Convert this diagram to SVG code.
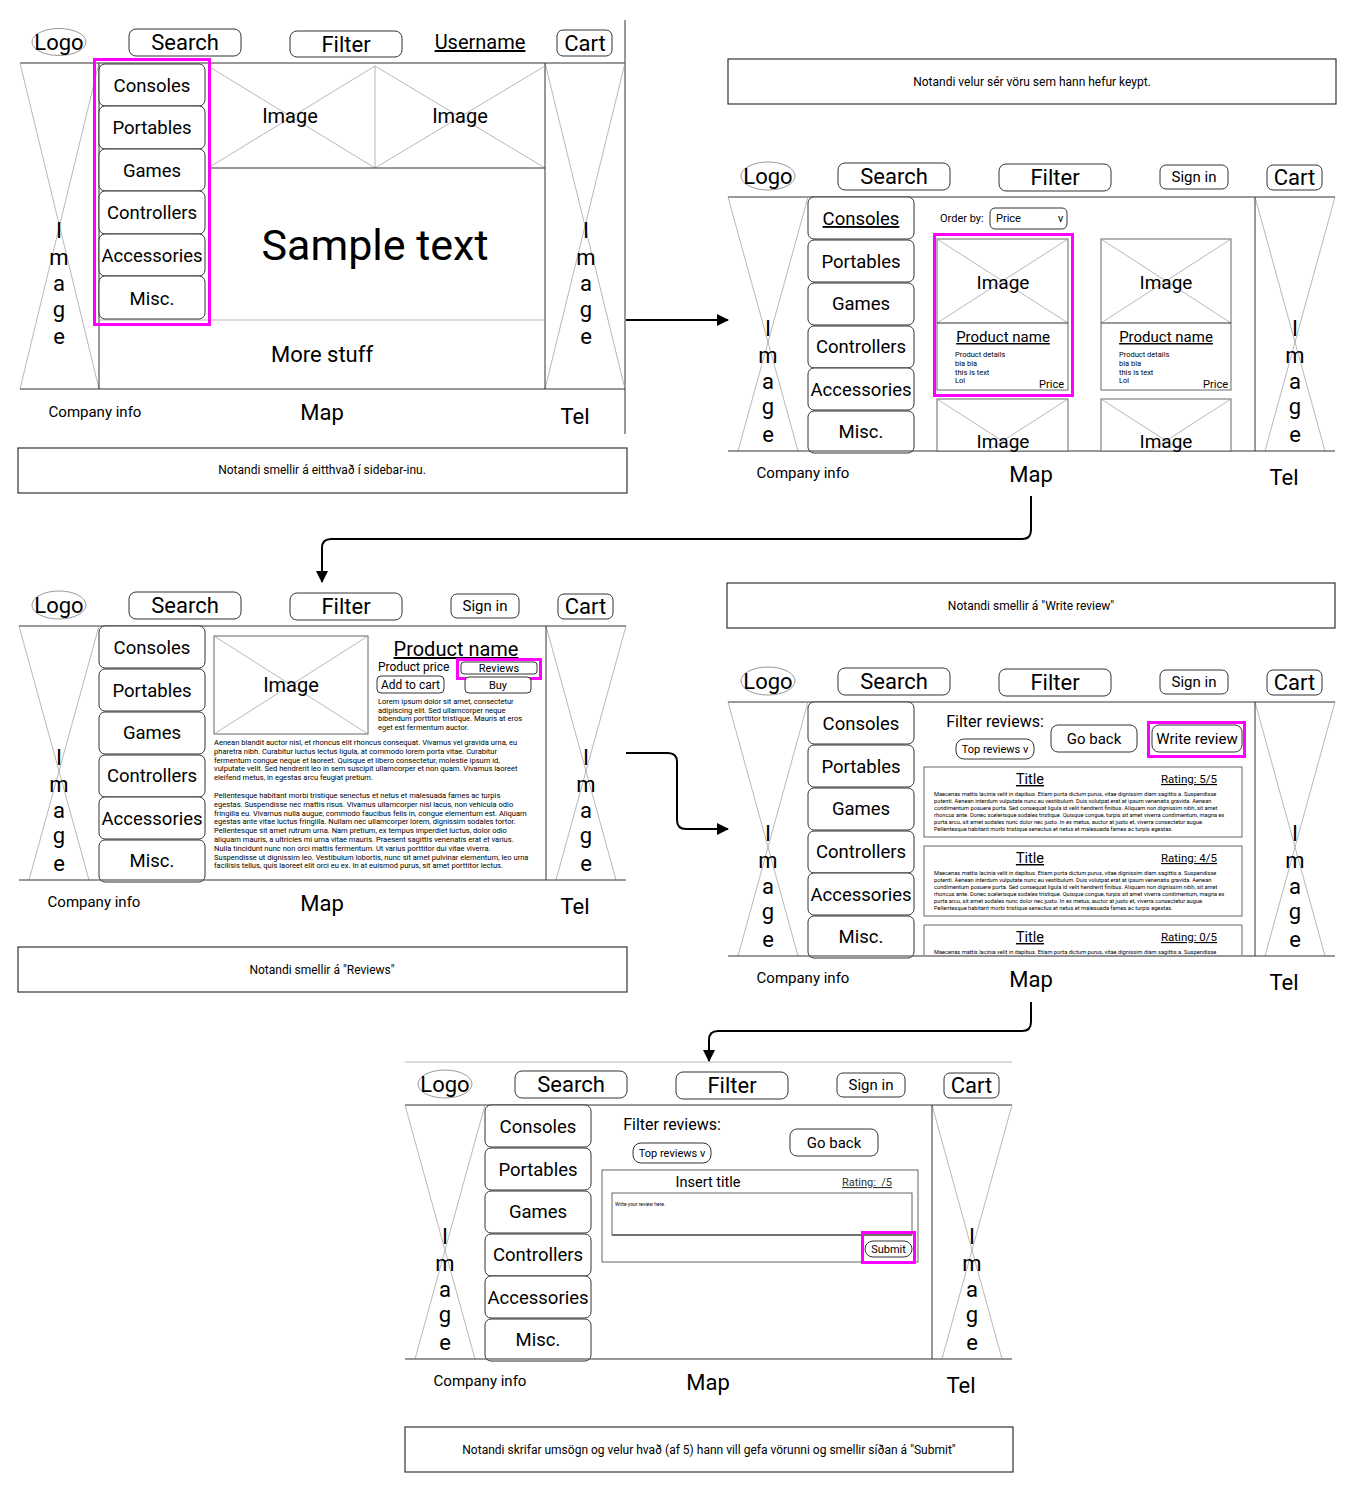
<svg xmlns="http://www.w3.org/2000/svg" width="1356" height="1492" viewBox="0 0 1356 1492">
<style>
text{font-family:Roboto,"Liberation Sans",sans-serif;fill:#000}
.m{text-anchor:middle}
.e{text-anchor:end}
.u{text-decoration:underline}
.t22{font-size:22px}
.t20{font-size:20px}
.t18{font-size:18.5px}
.t15{font-size:15px}
.t12{font-size:12px}
.t11{font-size:11px}
.btn{fill:#fff;stroke:#333;stroke-width:1}
.ph{stroke:#999;stroke-width:0.7;fill:none}
.rule{stroke:#333;stroke-width:1;fill:none}
.hl{fill:none;stroke:#ff00ff;stroke-width:3}
.box{fill:#fff;stroke:#333;stroke-width:1.2}
.card{fill:#fff;stroke:#666;stroke-width:1}
.conn{fill:none;stroke:#000;stroke-width:2}
.lg{fill:#fff;stroke:#999;stroke-width:1}
.tiny{font-size:7.55px}
.rv{font-size:5.7px}
</style>
<defs>
<marker id="arr" markerUnits="userSpaceOnUse" markerWidth="12" markerHeight="12" refX="11" refY="6" orient="auto">
<path d="M0,0 L12,6 L0,12 Z" fill="#000"/>
</marker>
</defs>
<rect width="1356" height="1492" fill="#fff"/>

<!-- PANEL 1 -->
<g id="panel1">
<ellipse cx="59" cy="42" rx="27" ry="13.5" class="lg"/>
<text x="59" y="50" class="t22 m">Logo</text>
<rect x="129" y="29" width="112" height="27" rx="7" class="btn"/>
<text x="185" y="50" class="t22 m">Search</text>
<rect x="290" y="31" width="112" height="26" rx="7" class="btn"/>
<text x="346" y="52" class="t22 m">Filter</text>
<text x="480" y="49" class="t20 m u">Username</text>
<rect x="557" y="30" width="55" height="26" rx="6" class="btn"/>
<text x="585" y="51" class="t22 m">Cart</text>
<line x1="20" y1="63" x2="625" y2="63" class="rule"/>
<line x1="625" y1="20" x2="625" y2="434" class="rule"/>
<line x1="20" y1="63" x2="99" y2="389" class="ph"/>
<line x1="99" y1="63" x2="20" y2="389" class="ph"/>
<text class="t22 m"><tspan x="59" y="238">I</tspan><tspan x="59" y="265">m</tspan><tspan x="59" y="291">a</tspan><tspan x="59" y="317">g</tspan><tspan x="59" y="344">e</tspan></text>
<line x1="545" y1="63" x2="625" y2="389" class="ph"/>
<line x1="625" y1="63" x2="545" y2="389" class="ph"/>
<text class="t22 m"><tspan x="586" y="238">I</tspan><tspan x="586" y="265">m</tspan><tspan x="586" y="291">a</tspan><tspan x="586" y="317">g</tspan><tspan x="586" y="344">e</tspan></text>
<line x1="99" y1="63" x2="99" y2="389" class="rule"/>
<line x1="545" y1="63" x2="545" y2="389" class="rule"/>
<line x1="208" y1="66" x2="375" y2="168" class="ph"/>
<line x1="375" y1="66" x2="208" y2="168" class="ph"/>
<line x1="375" y1="66" x2="545" y2="168" class="ph"/>
<line x1="545" y1="66" x2="375" y2="168" class="ph"/>
<line x1="375" y1="66" x2="375" y2="168" class="ph"/>
<text x="290" y="123" class="t20 m">Image</text>
<text x="460" y="123" class="t20 m">Image</text>
<line x1="208" y1="168" x2="545" y2="168" class="rule"/>
<text x="375" y="260" class="m" style="font-size:43px">Sample text</text>
<line x1="99" y1="320" x2="545" y2="320" class="ph"/>
<text x="322" y="362" class="t22 m">More stuff</text>
<line x1="20" y1="389" x2="625" y2="389" class="rule"/>
<g id="sidebar1">
<rect x="99" y="64" width="106" height="42" rx="6" class="btn"/>
<rect x="99" y="106" width="106" height="43" rx="6" class="btn"/>
<rect x="99" y="149" width="106" height="42" rx="6" class="btn"/>
<rect x="99" y="191" width="106" height="43" rx="6" class="btn"/>
<rect x="99" y="234" width="106" height="42" rx="6" class="btn"/>
<rect x="99" y="276" width="106" height="43" rx="6" class="btn"/>
<text x="152" y="92" class="t18 m">Consoles</text>
<text x="152" y="134" class="t18 m">Portables</text>
<text x="152" y="177" class="t18 m">Games</text>
<text x="152" y="219" class="t18 m">Controllers</text>
<text x="152" y="262" class="t18 m">Accessories</text>
<text x="152" y="305" class="t18 m">Misc.</text>
</g>
<rect x="94.5" y="59.5" width="115" height="265" class="hl"/>
<text x="95" y="417" class="t15 m">Company info</text>
<text x="322" y="420" class="t22 m">Map</text>
<text x="575" y="424" class="t22 m">Tel</text>
</g>

<!-- PANEL 2 -->
<g id="panel2">
<g id="frame2">
<ellipse cx="768" cy="176" rx="27" ry="14" class="lg"/>
<text x="768" y="184" class="t22 m">Logo</text>
<rect x="838" y="163" width="112" height="27" rx="7" class="btn"/>
<text x="894" y="184" class="t22 m">Search</text>
<rect x="999" y="164" width="112" height="27" rx="7" class="btn"/>
<text x="1055" y="185" class="t22 m">Filter</text>
<rect x="1160" y="165" width="68" height="24" rx="6" class="btn"/>
<text x="1194" y="182" class="t15 m">Sign in</text>
<rect x="1267" y="165" width="55" height="25" rx="6" class="btn"/>
<text x="1294.5" y="185" class="t22 m">Cart</text>
<line x1="728" y1="197" x2="1335" y2="197" class="rule"/>
<line x1="728" y1="197" x2="798" y2="451" class="ph"/>
<line x1="808" y1="197" x2="738" y2="451" class="ph"/>
<line x1="1255" y1="197" x2="1325" y2="451" class="ph"/>
<line x1="1335" y1="197" x2="1265" y2="451" class="ph"/>
<text class="t22 m"><tspan x="768" y="336">I</tspan><tspan x="768" y="362.5">m</tspan><tspan x="768" y="389">a</tspan><tspan x="768" y="414">g</tspan><tspan x="768" y="442">e</tspan></text>
<text class="t22 m"><tspan x="1295" y="336">I</tspan><tspan x="1295" y="362.5">m</tspan><tspan x="1295" y="389">a</tspan><tspan x="1295" y="414">g</tspan><tspan x="1295" y="442">e</tspan></text>
<line x1="1255" y1="197" x2="1255" y2="451" class="rule"/>
<rect x="808" y="197" width="106" height="42" rx="6" class="btn"/>
<rect x="808" y="240" width="106" height="42" rx="6" class="btn"/>
<rect x="808" y="283" width="106" height="42" rx="6" class="btn"/>
<rect x="808" y="326" width="106" height="42" rx="6" class="btn"/>
<rect x="808" y="368" width="106" height="42" rx="6" class="btn"/>
<rect x="808" y="411" width="106" height="42" rx="6" class="btn"/>
<text x="861" y="225" class="t18 m u">Consoles</text>
<text x="861" y="268" class="t18 m">Portables</text>
<text x="861" y="310" class="t18 m">Games</text>
<text x="861" y="353" class="t18 m">Controllers</text>
<text x="861" y="396" class="t18 m">Accessories</text>
<text x="861" y="438" class="t18 m">Misc.</text>
<line x1="728" y1="451" x2="1335" y2="451" class="rule"/>
<text x="803" y="478" class="t15 m">Company info</text>
<text x="1031" y="482" class="t22 m">Map</text>
<text x="1284" y="485" class="t22 m">Tel</text>
</g>
<text x="940" y="222" class="t11">Order by:</text>
<rect x="990" y="208" width="77" height="21" rx="5" class="btn"/>
<text x="996" y="222" class="t11">Price</text>
<text x="1058" y="222" class="t11">v</text>
<g id="card1">
<rect x="937" y="239" width="131" height="151" class="card"/>
<line x1="937" y1="239" x2="1068" y2="323" class="ph"/>
<line x1="1068" y1="239" x2="937" y2="323" class="ph"/>
<line x1="937" y1="323" x2="1068" y2="323" class="rule"/>
<text x="1003" y="289" class="m" style="font-size:19px">Image</text>
<text x="1003" y="342" class="t15 m u">Product name</text>
<text style="font-size:7.5px"><tspan x="955" y="357">Product details</tspan><tspan x="955" y="366">bla bla</tspan><tspan x="955" y="374.5">this is text</tspan><tspan x="955" y="383">Lol</tspan></text>
<text x="1064" y="388" class="t11 e">Price</text>
</g>
<g id="card2">
<rect x="1101" y="239" width="130" height="151" class="card"/>
<line x1="1101" y1="239" x2="1231" y2="323" class="ph"/>
<line x1="1231" y1="239" x2="1101" y2="323" class="ph"/>
<line x1="1101" y1="323" x2="1231" y2="323" class="rule"/>
<text x="1166" y="289" class="m" style="font-size:19px">Image</text>
<text x="1166" y="342" class="t15 m u">Product name</text>
<text style="font-size:7.5px"><tspan x="1119" y="357">Product details</tspan><tspan x="1119" y="366">bla bla</tspan><tspan x="1119" y="374.5">this is text</tspan><tspan x="1119" y="383">Lol</tspan></text>
<text x="1228" y="388" class="t11 e">Price</text>
</g>
<g id="card3">
<rect x="937" y="399" width="131" height="52" class="card"/>
<line x1="937" y1="399" x2="1018" y2="451" class="ph"/>
<line x1="1068" y1="399" x2="987" y2="451" class="ph"/>
<text x="1003" y="448" class="m" style="font-size:19px">Image</text>
</g>
<g id="card4">
<rect x="1101" y="399" width="130" height="52" class="card"/>
<line x1="1101" y1="399" x2="1182" y2="451" class="ph"/>
<line x1="1231" y1="399" x2="1150" y2="451" class="ph"/>
<text x="1166" y="448" class="m" style="font-size:19px">Image</text>
</g>
<rect x="934.5" y="234.5" width="138" height="161" class="hl"/>
</g>

<!-- PANEL 3 -->
<g id="panel3">
<g transform="translate(-709,429)">
<ellipse cx="768" cy="176" rx="27" ry="14" class="lg"/>
<text x="768" y="184" class="t22 m">Logo</text>
<rect x="838" y="163" width="112" height="27" rx="7" class="btn"/>
<text x="894" y="184" class="t22 m">Search</text>
<rect x="999" y="164" width="112" height="27" rx="7" class="btn"/>
<text x="1055" y="185" class="t22 m">Filter</text>
<rect x="1160" y="165" width="68" height="24" rx="6" class="btn"/>
<text x="1194" y="182" class="t15 m">Sign in</text>
<rect x="1267" y="165" width="55" height="25" rx="6" class="btn"/>
<text x="1294.5" y="185" class="t22 m">Cart</text>
<line x1="728" y1="197" x2="1335" y2="197" class="rule"/>
<line x1="728" y1="197" x2="798" y2="451" class="ph"/>
<line x1="808" y1="197" x2="738" y2="451" class="ph"/>
<line x1="1255" y1="197" x2="1325" y2="451" class="ph"/>
<line x1="1335" y1="197" x2="1265" y2="451" class="ph"/>
<text class="t22 m"><tspan x="768" y="336">I</tspan><tspan x="768" y="362.5">m</tspan><tspan x="768" y="389">a</tspan><tspan x="768" y="414">g</tspan><tspan x="768" y="442">e</tspan></text>
<text class="t22 m"><tspan x="1295" y="336">I</tspan><tspan x="1295" y="362.5">m</tspan><tspan x="1295" y="389">a</tspan><tspan x="1295" y="414">g</tspan><tspan x="1295" y="442">e</tspan></text>
<line x1="1255" y1="197" x2="1255" y2="451" class="rule"/>
<rect x="808" y="197" width="106" height="42" rx="6" class="btn"/>
<rect x="808" y="240" width="106" height="42" rx="6" class="btn"/>
<rect x="808" y="283" width="106" height="42" rx="6" class="btn"/>
<rect x="808" y="326" width="106" height="42" rx="6" class="btn"/>
<rect x="808" y="368" width="106" height="42" rx="6" class="btn"/>
<rect x="808" y="411" width="106" height="42" rx="6" class="btn"/>
<text x="861" y="225" class="t18 m">Consoles</text>
<text x="861" y="268" class="t18 m">Portables</text>
<text x="861" y="310" class="t18 m">Games</text>
<text x="861" y="353" class="t18 m">Controllers</text>
<text x="861" y="396" class="t18 m">Accessories</text>
<text x="861" y="438" class="t18 m">Misc.</text>
<line x1="728" y1="451" x2="1335" y2="451" class="rule"/>
<text x="803" y="478" class="t15 m">Company info</text>
<text x="1031" y="482" class="t22 m">Map</text>
<text x="1284" y="485" class="t22 m">Tel</text>
</g>
<rect x="214" y="636" width="154" height="98" class="card"/>
<line x1="214" y1="636" x2="368" y2="734" class="ph"/>
<line x1="368" y1="636" x2="214" y2="734" class="ph"/>
<text x="291" y="692" class="t20 m">Image</text>
<text x="456" y="656" class="t20 m u">Product name</text>
<text x="378" y="671" class="t12">Product price</text>
<rect x="461" y="662" width="76" height="12" rx="3" class="btn"/>
<text x="499" y="672" class="t11 m">Reviews</text>
<rect x="457.5" y="659.5" width="83" height="19" class="hl"/>
<rect x="377" y="676" width="67" height="17" rx="4" class="btn"/>
<text x="410.5" y="689" class="t12 m">Add to cart</text>
<rect x="465" y="677" width="66" height="16" rx="4" class="btn"/>
<text x="498" y="689" class="t11 m">Buy</text>
<text class="tiny"><tspan x="378" y="704">Lorem ipsum dolor sit amet, consectetur</tspan><tspan x="378" y="712.5">adipiscing elit. Sed ullamcorper neque</tspan><tspan x="378" y="721">bibendum porttitor tristique. Mauris at eros</tspan><tspan x="378" y="729.5">eget est fermentum auctor.</tspan></text>
<text class="tiny"><tspan x="214" y="745">Aenean blandit auctor nisl, et rhoncus elit rhoncus consequat. Vivamus vel gravida urna, eu</tspan><tspan x="214" y="753.8">pharetra nibh. Curabitur luctus lectus ligula, at commodo lorem porta vitae. Curabitur</tspan><tspan x="214" y="762.6">fermentum congue neque et laoreet. Quisque et libero consectetur, molestie ipsum id,</tspan><tspan x="214" y="771.4">vulputate velit. Sed hendrerit leo in sem suscipit ullamcorper et non quam. Vivamus laoreet</tspan><tspan x="214" y="780.2">eleifend metus, in egestas arcu feugiat pretium.</tspan></text>
<text class="tiny"><tspan x="214" y="798">Pellentesque habitant morbi tristique senectus et netus et malesuada fames ac turpis</tspan><tspan x="214" y="806.8">egestas. Suspendisse nec mattis risus. Vivamus ullamcorper nisl lacus, non vehicula odio</tspan><tspan x="214" y="815.6">fringilla eu. Vivamus nulla augue, commodo faucibus felis in, congue elementum est. Aliquam</tspan><tspan x="214" y="824.4">egestas ante vitae luctus fringilla. Nullam nec ullamcorper lorem, dignissim sodales tortor.</tspan><tspan x="214" y="833.2">Pellentesque sit amet rutrum urna. Nam pretium, ex tempus imperdiet luctus, dolor odio</tspan><tspan x="214" y="842">aliquam mauris, a ultricies mi urna vitae mauris. Praesent sagittis venenatis erat et varius.</tspan><tspan x="214" y="850.8">Nulla tincidunt nunc non orci mattis fermentum. Ut varius porttitor dui vitae viverra.</tspan><tspan x="214" y="859.6">Suspendisse ut dignissim leo. Vestibulum lobortis, nunc sit amet pulvinar elementum, leo urna</tspan><tspan x="214" y="868.4">facilisis tellus, quis laoreet elit orci eu ex. In at euismod purus, sit amet porttitor lectus.</tspan></text>
</g>

<!-- PANEL 4 -->
<g id="panel4">
<g transform="translate(0,505)">
<ellipse cx="768" cy="176" rx="27" ry="14" class="lg"/>
<text x="768" y="184" class="t22 m">Logo</text>
<rect x="838" y="163" width="112" height="27" rx="7" class="btn"/>
<text x="894" y="184" class="t22 m">Search</text>
<rect x="999" y="164" width="112" height="27" rx="7" class="btn"/>
<text x="1055" y="185" class="t22 m">Filter</text>
<rect x="1160" y="165" width="68" height="24" rx="6" class="btn"/>
<text x="1194" y="182" class="t15 m">Sign in</text>
<rect x="1267" y="165" width="55" height="25" rx="6" class="btn"/>
<text x="1294.5" y="185" class="t22 m">Cart</text>
<line x1="728" y1="197" x2="1335" y2="197" class="rule"/>
<line x1="728" y1="197" x2="798" y2="451" class="ph"/>
<line x1="808" y1="197" x2="738" y2="451" class="ph"/>
<line x1="1255" y1="197" x2="1325" y2="451" class="ph"/>
<line x1="1335" y1="197" x2="1265" y2="451" class="ph"/>
<text class="t22 m"><tspan x="768" y="336">I</tspan><tspan x="768" y="362.5">m</tspan><tspan x="768" y="389">a</tspan><tspan x="768" y="414">g</tspan><tspan x="768" y="442">e</tspan></text>
<text class="t22 m"><tspan x="1295" y="336">I</tspan><tspan x="1295" y="362.5">m</tspan><tspan x="1295" y="389">a</tspan><tspan x="1295" y="414">g</tspan><tspan x="1295" y="442">e</tspan></text>
<line x1="1255" y1="197" x2="1255" y2="451" class="rule"/>
<rect x="808" y="197" width="106" height="42" rx="6" class="btn"/>
<rect x="808" y="240" width="106" height="42" rx="6" class="btn"/>
<rect x="808" y="283" width="106" height="42" rx="6" class="btn"/>
<rect x="808" y="326" width="106" height="42" rx="6" class="btn"/>
<rect x="808" y="368" width="106" height="42" rx="6" class="btn"/>
<rect x="808" y="411" width="106" height="42" rx="6" class="btn"/>
<text x="861" y="225" class="t18 m">Consoles</text>
<text x="861" y="268" class="t18 m">Portables</text>
<text x="861" y="310" class="t18 m">Games</text>
<text x="861" y="353" class="t18 m">Controllers</text>
<text x="861" y="396" class="t18 m">Accessories</text>
<text x="861" y="438" class="t18 m">Misc.</text>
<line x1="728" y1="451" x2="1335" y2="451" class="rule"/>
<text x="803" y="478" class="t15 m">Company info</text>
<text x="1031" y="482" class="t22 m">Map</text>
<text x="1284" y="485" class="t22 m">Tel</text>
</g>
<text x="995" y="727" class="m" style="font-size:16px">Filter reviews:</text>
<rect x="956" y="739" width="78" height="20" rx="8" class="btn"/>
<text x="995" y="753" class="t11 m">Top reviews v</text>
<rect x="1051" y="725" width="86" height="27" rx="7" class="btn"/>
<text x="1094" y="744" class="t15 m">Go back</text>
<rect x="1152" y="725" width="90" height="27" rx="7" class="btn"/>
<text x="1197" y="744" class="t15 m">Write review</text>
<rect x="1148.5" y="722.5" width="96" height="34" class="hl"/>
<g id="review1">
<rect x="924" y="767" width="318" height="70" class="card"/>
<text x="1030" y="784" class="m u" style="font-size:14.5px">Title</text>
<text x="1189" y="783" class="m u" style="font-size:11.5px">Rating: 5/5</text>
<text class="rv"><tspan x="934" y="796">Maecenas mattis lacinia velit in dapibus. Etiam porta dictum purus, vitae dignissim diam sagittis a. Suspendisse</tspan><tspan x="934" y="803">potenti. Aenean interdum vulputate nunc eu vestibulum. Duis volutpat erat at ipsum venenatis gravida. Aenean</tspan><tspan x="934" y="810">condimentum posuere porta. Sed consequat ligula id velit hendrerit finibus. Aliquam non dignissim nibh, sit amet</tspan><tspan x="934" y="817">rhoncus ante. Donec scelerisque sodales tristique. Quisque congue, turpis sit amet viverra condimentum, magna ex</tspan><tspan x="934" y="824">porta arcu, sit amet sodales nunc dolor nec justo. In ex metus, auctor at justo et, viverra consectetur augue.</tspan><tspan x="934" y="831">Pellentesque habitant morbi tristique senectus et netus et malesuada fames ac turpis egestas.</tspan></text>
</g>
<g id="review2">
<rect x="924" y="846" width="318" height="70" class="card"/>
<text x="1030" y="863" class="m u" style="font-size:14.5px">Title</text>
<text x="1189" y="862" class="m u" style="font-size:11.5px">Rating: 4/5</text>
<text class="rv"><tspan x="934" y="875">Maecenas mattis lacinia velit in dapibus. Etiam porta dictum purus, vitae dignissim diam sagittis a. Suspendisse</tspan><tspan x="934" y="882">potenti. Aenean interdum vulputate nunc eu vestibulum. Duis volutpat erat at ipsum venenatis gravida. Aenean</tspan><tspan x="934" y="889">condimentum posuere porta. Sed consequat ligula id velit hendrerit finibus. Aliquam non dignissim nibh, sit amet</tspan><tspan x="934" y="896">rhoncus ante. Donec scelerisque sodales tristique. Quisque congue, turpis sit amet viverra condimentum, magna ex</tspan><tspan x="934" y="903">porta arcu, sit amet sodales nunc dolor nec justo. In ex metus, auctor at justo et, viverra consectetur augue.</tspan><tspan x="934" y="910">Pellentesque habitant morbi tristique senectus et netus et malesuada fames ac turpis egestas.</tspan></text>
</g>
<g id="review3">
<path d="M924,955 V925 H1242 V955" class="card"/>
<text x="1030" y="942" class="m u" style="font-size:14.5px">Title</text>
<text x="1189" y="941" class="m u" style="font-size:11.5px">Rating: 0/5</text>
<text class="rv"><tspan x="934" y="954">Maecenas mattis lacinia velit in dapibus. Etiam porta dictum purus, vitae dignissim diam sagittis a. Suspendisse</tspan></text>
</g>
</g>

<!-- PANEL 5 -->
<g id="panel5">
<line x1="405" y1="1062" x2="1012" y2="1062" class="ph"/>
<g transform="translate(-323,908)">
<ellipse cx="768" cy="176" rx="27" ry="14" class="lg"/>
<text x="768" y="184" class="t22 m">Logo</text>
<rect x="838" y="163" width="112" height="27" rx="7" class="btn"/>
<text x="894" y="184" class="t22 m">Search</text>
<rect x="999" y="164" width="112" height="27" rx="7" class="btn"/>
<text x="1055" y="185" class="t22 m">Filter</text>
<rect x="1160" y="165" width="68" height="24" rx="6" class="btn"/>
<text x="1194" y="182" class="t15 m">Sign in</text>
<rect x="1267" y="165" width="55" height="25" rx="6" class="btn"/>
<text x="1294.5" y="185" class="t22 m">Cart</text>
<line x1="728" y1="197" x2="1335" y2="197" class="rule"/>
<line x1="728" y1="197" x2="798" y2="451" class="ph"/>
<line x1="808" y1="197" x2="738" y2="451" class="ph"/>
<line x1="1255" y1="197" x2="1325" y2="451" class="ph"/>
<line x1="1335" y1="197" x2="1265" y2="451" class="ph"/>
<text class="t22 m"><tspan x="768" y="336">I</tspan><tspan x="768" y="362.5">m</tspan><tspan x="768" y="389">a</tspan><tspan x="768" y="414">g</tspan><tspan x="768" y="442">e</tspan></text>
<text class="t22 m"><tspan x="1295" y="336">I</tspan><tspan x="1295" y="362.5">m</tspan><tspan x="1295" y="389">a</tspan><tspan x="1295" y="414">g</tspan><tspan x="1295" y="442">e</tspan></text>
<line x1="1255" y1="197" x2="1255" y2="451" class="rule"/>
<rect x="808" y="197" width="106" height="42" rx="6" class="btn"/>
<rect x="808" y="240" width="106" height="42" rx="6" class="btn"/>
<rect x="808" y="283" width="106" height="42" rx="6" class="btn"/>
<rect x="808" y="326" width="106" height="42" rx="6" class="btn"/>
<rect x="808" y="368" width="106" height="42" rx="6" class="btn"/>
<rect x="808" y="411" width="106" height="42" rx="6" class="btn"/>
<text x="861" y="225" class="t18 m">Consoles</text>
<text x="861" y="268" class="t18 m">Portables</text>
<text x="861" y="310" class="t18 m">Games</text>
<text x="861" y="353" class="t18 m">Controllers</text>
<text x="861" y="396" class="t18 m">Accessories</text>
<text x="861" y="438" class="t18 m">Misc.</text>
<line x1="728" y1="451" x2="1335" y2="451" class="rule"/>
<text x="803" y="478" class="t15 m">Company info</text>
<text x="1031" y="482" class="t22 m">Map</text>
<text x="1284" y="485" class="t22 m">Tel</text>
</g>
<text x="672" y="1130" class="m" style="font-size:16px">Filter reviews:</text>
<rect x="633" y="1143" width="78" height="20" rx="8" class="btn"/>
<text x="672" y="1157" class="t11 m">Top reviews v</text>
<rect x="790" y="1129" width="88" height="27" rx="7" class="btn"/>
<text x="834" y="1148" class="t15 m">Go back</text>
<rect x="602" y="1170" width="316" height="92" class="card"/>
<text x="708" y="1187" class="m" style="font-size:14.5px">Insert title</text>
<text x="867" y="1186" class="t11 m u" style="fill:#333">Rating:&#160; /5</text>
<rect x="612" y="1193" width="300" height="42" class="card"/>
<line x1="612" y1="1235" x2="912" y2="1235" class="rule"/>
<text x="615" y="1206" style="font-size:5px">Write your review here.</text>
<rect x="865" y="1241" width="47" height="16" rx="8" class="btn"/>
<text x="888.5" y="1253" class="t11 m">Submit</text>
<rect x="862.5" y="1232.5" width="52" height="30" class="hl"/>
</g>

<!-- TEXT BOXES -->
<g id="note1"><rect x="18" y="448" width="609" height="45" class="box"/><text x="322" y="474" class="t12 m">Notandi smellir á eitthvað í sidebar-inu.</text></g>
<g id="note2"><rect x="728" y="59" width="608" height="45" class="box"/><text x="1032" y="86" class="t12 m">Notandi velur sér vöru sem hann hefur keypt.</text></g>
<g id="note3"><rect x="18" y="947" width="609" height="45" class="box"/><text x="322" y="974" class="t12 m">Notandi smellir á "Reviews"</text></g>
<g id="note4"><rect x="727" y="583" width="608" height="45" class="box"/><text x="1031" y="610" class="t12 m">Notandi smellir á "Write review"</text></g>
<g id="note5"><rect x="405" y="1427" width="608" height="45" class="box"/><text x="709" y="1454" class="t12 m">Notandi skrifar umsögn og velur hvað (af 5) hann vill gefa vörunni og smellir síðan á "Submit"</text></g>

<!-- CONNECTORS -->
<g id="connectors">
<path d="M626,320 H728" class="conn" marker-end="url(#arr)"/>
<path d="M1031,496 V530 Q1031,539 1022,539 H331 Q322,539 322,548 V582" class="conn" marker-end="url(#arr)"/>
<path d="M626,753 H668 Q677,753 677,762 V820 Q677,829 686,829 H728" class="conn" marker-end="url(#arr)"/>
<path d="M1031,1002 V1022 Q1031,1031 1022,1031 H718 Q709,1031 709,1040 V1061" class="conn" marker-end="url(#arr)"/>
</g>
</svg>
